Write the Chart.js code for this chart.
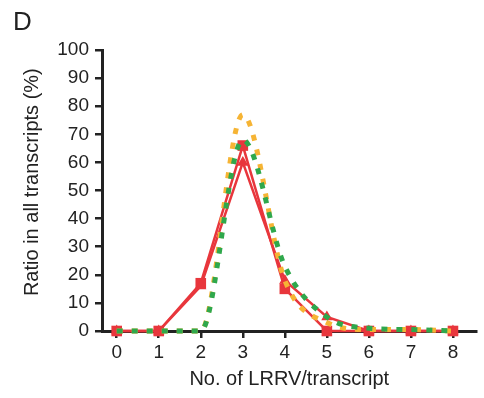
<!DOCTYPE html>
<html>
<head>
<meta charset="utf-8">
<script src="https://cdn.jsdelivr.net/npm/chart.js@4"></script>
<style>
  html, body { margin: 0; padding: 0; background: #fff; }
  #wrap { width: 484px; height: 398px; position: relative; }
</style>
</head>
<body>
<div id="wrap"><canvas id="chart-lrrv"></canvas></div>
<script>
// valores
const xValues = [0, 1, 2, 3, 4, 5, 6, 7, 8];
const redSquare = [0, 0, 17, 66, 15, 0, 0, 0, 0];
const redTriangle = [0, 0, 16, 60, 18, 5, 0, 0, 0];
const orangeDotted = [0, 0, 0, 77, 18, 3, 0.5, 0.5, 0];
const greenDotted = [0, 0, 0, 68, 23, 5, 1, 0.5, 0];
const yTicks = [0, 10, 20, 30, 40, 50, 60, 70, 80, 90, 100];

const RED = '#e8363c';
const ORANGE = '#f6b434';
const GREEN = '#2fa84c';
const INK = '#222';
const FONT = "'Liberation Sans', Arial, Helvetica, sans-serif";

function toPoints(ys) {
    return xValues.map((x, i) => ({ x: x, y: ys[i] }));
}

// letra do painel
const panelLetter = {
    id: 'panelLetter',
    afterDraw(chart) {
        const ctx = chart.ctx;
        ctx.save();
        ctx.fillStyle = INK;
        ctx.font = '26px ' + FONT;
        ctx.textBaseline = 'alphabetic';
        ctx.fillText('D', 13, 30);
        ctx.restore();
    }
};

const ctx = document.getElementById('chart-lrrv');

new Chart(ctx, {
    type: 'line',
    data: {
        datasets: [
            {
                data: toPoints(greenDotted),
                borderColor: GREEN,
                borderWidth: 5,
                borderDash: [6, 9],
                borderJoinStyle: 'round',
                cubicInterpolationMode: 'monotone',
                pointRadius: 0,
                clip: false
            },
            {
                data: toPoints(orangeDotted),
                borderColor: ORANGE,
                borderWidth: 5,
                borderDash: [6, 9],
                borderJoinStyle: 'round',
                cubicInterpolationMode: 'monotone',
                pointRadius: 0,
                clip: false
            },
            {
                data: toPoints(redTriangle),
                borderColor: RED,
                backgroundColor: RED,
                borderWidth: 2.5,
                pointStyle: 'triangle',
                pointRadius: 4,
                clip: false
            },
            {
                data: toPoints(redSquare),
                borderColor: RED,
                backgroundColor: RED,
                borderWidth: 2.5,
                pointStyle: 'rect',
                pointRadius: 7.5,
                pointBorderWidth: 0,
                clip: false
            }
        ]
    },
    options: {
        responsive: true,
        maintainAspectRatio: false,
        animation: false,
        layout: { padding: { left: 20, top: 50, right: 0, bottom: 4 } },
        plugins: {
            legend: { display: false },
            tooltip: { enabled: false }
        },
        scales: {
            x: {
                type: 'linear',
                min: -0.35,
                max: 8.56,
                afterBuildTicks: (scale) => {
                    scale.ticks = xValues.map(v => ({ value: v }));
                },
                afterFit: (scale) => { scale.height = 63; },
                border: { color: INK, width: 3 },
                grid: { drawOnChartArea: false, color: INK, lineWidth: 2.5, tickLength: 7 },
                ticks: { color: INK, font: { family: FONT, size: 19 }, padding: 3 },
                title: {
                    display: true,
                    text: 'No. of LRRV/transcript',
                    color: INK,
                    font: { family: FONT, size: 20 },
                    padding: { top: 0, bottom: 3 }
                }
            },
            y: {
                type: 'linear',
                min: 0,
                max: 100,
                afterBuildTicks: (scale) => {
                    scale.ticks = yTicks.map(v => ({ value: v }));
                },
                afterFit: (scale) => { scale.width = 82; },
                border: { color: INK, width: 3 },
                grid: { drawOnChartArea: false, color: INK, lineWidth: 2.5, tickLength: 7 },
                ticks: { color: INK, font: { family: FONT, size: 19 }, padding: 6 },
                title: {
                    display: true,
                    text: '   Ratio in all transcripts (%)',
                    color: INK,
                    font: { family: FONT, size: 20 },
                    padding: { top: 0, bottom: 0 }
                }
            }
        }
    },
    plugins: [panelLetter]
});
</script>
</body>
</html>
